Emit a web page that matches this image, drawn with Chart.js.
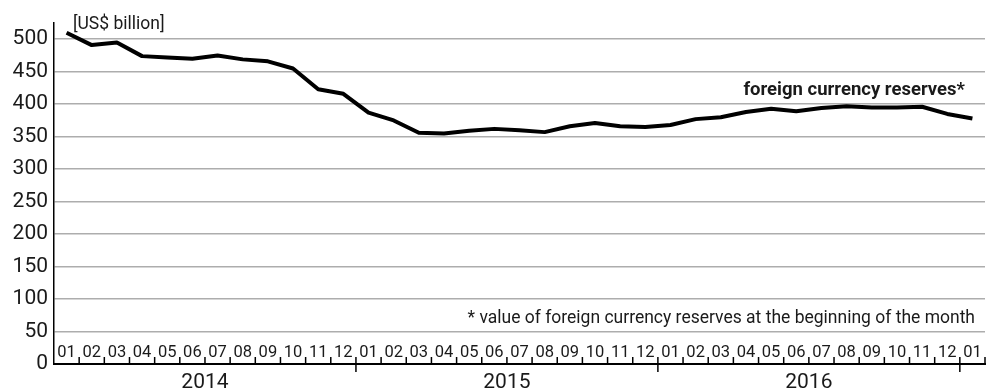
<!DOCTYPE html>
<html>
<head>
<meta charset="utf-8">
<script src="https://cdn.jsdelivr.net/npm/chart.js@4"></script>
<style>
  html, body { margin: 0; padding: 0; background: #fff; }
  #wrap { width: 986px; height: 389px; position: relative; }
</style>
</head>
<body>
<div id="wrap"><canvas id="chart"></canvas></div>
<script>
// month labels along the x axis, 2014-01 .. 2017-01
const months = [
    "01", "02", "03", "04", "05", "06", "07", "08", "09", "10", "11", "12",
    "01", "02", "03", "04", "05", "06", "07", "08", "09", "10", "11", "12",
    "01", "02", "03", "04", "05", "06", "07", "08", "09", "10", "11", "12",
    "01"
]
const years = ["2014", "2015", "2016"]

// foreign currency reserves, US$ billion, beginning of month
const reserves = [
    510, 491, 495, 474, 472, 470, 475, 469, 466, 455, 423, 416,
    387, 375, 356, 355, 359, 362, 360, 357, 366, 371, 366, 365,
    368, 377, 380, 388, 393, 389, 394, 397, 395, 395, 396, 385,
    378
]

const yTicks = [0, 50, 100, 150, 200, 250, 300, 350, 400, 450, 500]

const unitLabel = "[US$ billion]"
const seriesLabel = "foreign currency reserves*"
const footnote = "* value of foreign currency reserves at the beginning of the month"

const FONT = "Roboto, 'Liberation Sans', sans-serif"
const TEXT = "#1a1a1a"

// month ticks, month/year labels and the notes
const decorations = {
    id: "decorations",
    afterDraw(chart) {
        const ctx = chart.ctx
        const x = chart.scales.x
        const y = chart.scales.y
        const area = chart.chartArea
        const half = (x.getPixelForValue(1) - x.getPixelForValue(0)) / 2

        ctx.save()
        ctx.strokeStyle = "#000"
        ctx.lineWidth = 1.5
        ctx.fillStyle = TEXT

        // boundary ticks
        for (let i = 1; i <= months.length; i++) {
            const bx = i < months.length ? x.getPixelForValue(i) - half : x.getPixelForValue(i - 1) + half
            const yearStart = i < months.length && months[i] === "01"
            ctx.beginPath()
            ctx.moveTo(bx, area.bottom - 7)
            ctx.lineTo(bx, area.bottom + (yearStart ? 8 : 0))
            ctx.stroke()
        }

        // month labels inside the plot
        ctx.font = "16.5px " + FONT
        ctx.textAlign = "center"
        ctx.textBaseline = "alphabetic"
        months.forEach((m, i) => {
            ctx.fillText(m, x.getPixelForValue(i), area.bottom - 7)
        })

        // year labels below the axis
        ctx.font = "21px " + FONT
        years.forEach((yr, k) => {
            const cx = (x.getPixelForValue(k * 12) + x.getPixelForValue(k * 12 + 11)) / 2
            ctx.fillText(yr, cx, area.bottom + 24)
        })

        // notes
        ctx.font = "17.5px " + FONT
        ctx.textAlign = "left"
        ctx.fillText(unitLabel, 73, 29)

        ctx.textAlign = "right"
        ctx.fillText(footnote, area.right - 10, y.getPixelForValue(63))

        ctx.font = "bold 18.5px " + FONT
        ctx.fillText(seriesLabel, area.right - 20, y.getPixelForValue(414))
        ctx.restore()
    }
}

new Chart("chart", {
    type: "line",
    data: {
        labels: months,
        datasets: [{
            data: reserves,
            borderColor: "#000",
            borderWidth: 4,
            borderJoinStyle: "round",
            borderCapStyle: "butt",
            pointRadius: 0,
            fill: false,
            tension: 0
        }]
    },
    options: {
        responsive: true,
        maintainAspectRatio: false,
        animation: false,
        layout: {
            padding: { top: 23, right: 1, bottom: 25, left: 0 }
        },
        plugins: {
            legend: { display: false },
            tooltip: { enabled: false }
        },
        scales: {
            x: {
                type: "category",
                offset: true,
                grid: { display: false, drawTicks: false },
                ticks: { display: false },
                border: { display: true, color: "#000", width: 2 },
                afterFit: (scale) => { scale.height = 0 }
            },
            y: {
                min: 0,
                max: 525,
                afterBuildTicks: (scale) => {
                    scale.ticks = yTicks.map((v) => ({ value: v }))
                },
                grid: {
                    drawTicks: false,
                    color: (c) => (c.tick && c.tick.value === 0 ? "rgba(0,0,0,0)" : "#adadad"),
                    lineWidth: 1.5
                },
                border: { display: true, color: "#000", width: 1.5 },
                ticks: {
                    padding: 6,
                    color: TEXT,
                    font: { family: FONT, size: 21 }
                },
                afterFit: (scale) => { scale.width = 54 }
            }
        }
    },
    plugins: [decorations]
});
</script>
</body>
</html>
